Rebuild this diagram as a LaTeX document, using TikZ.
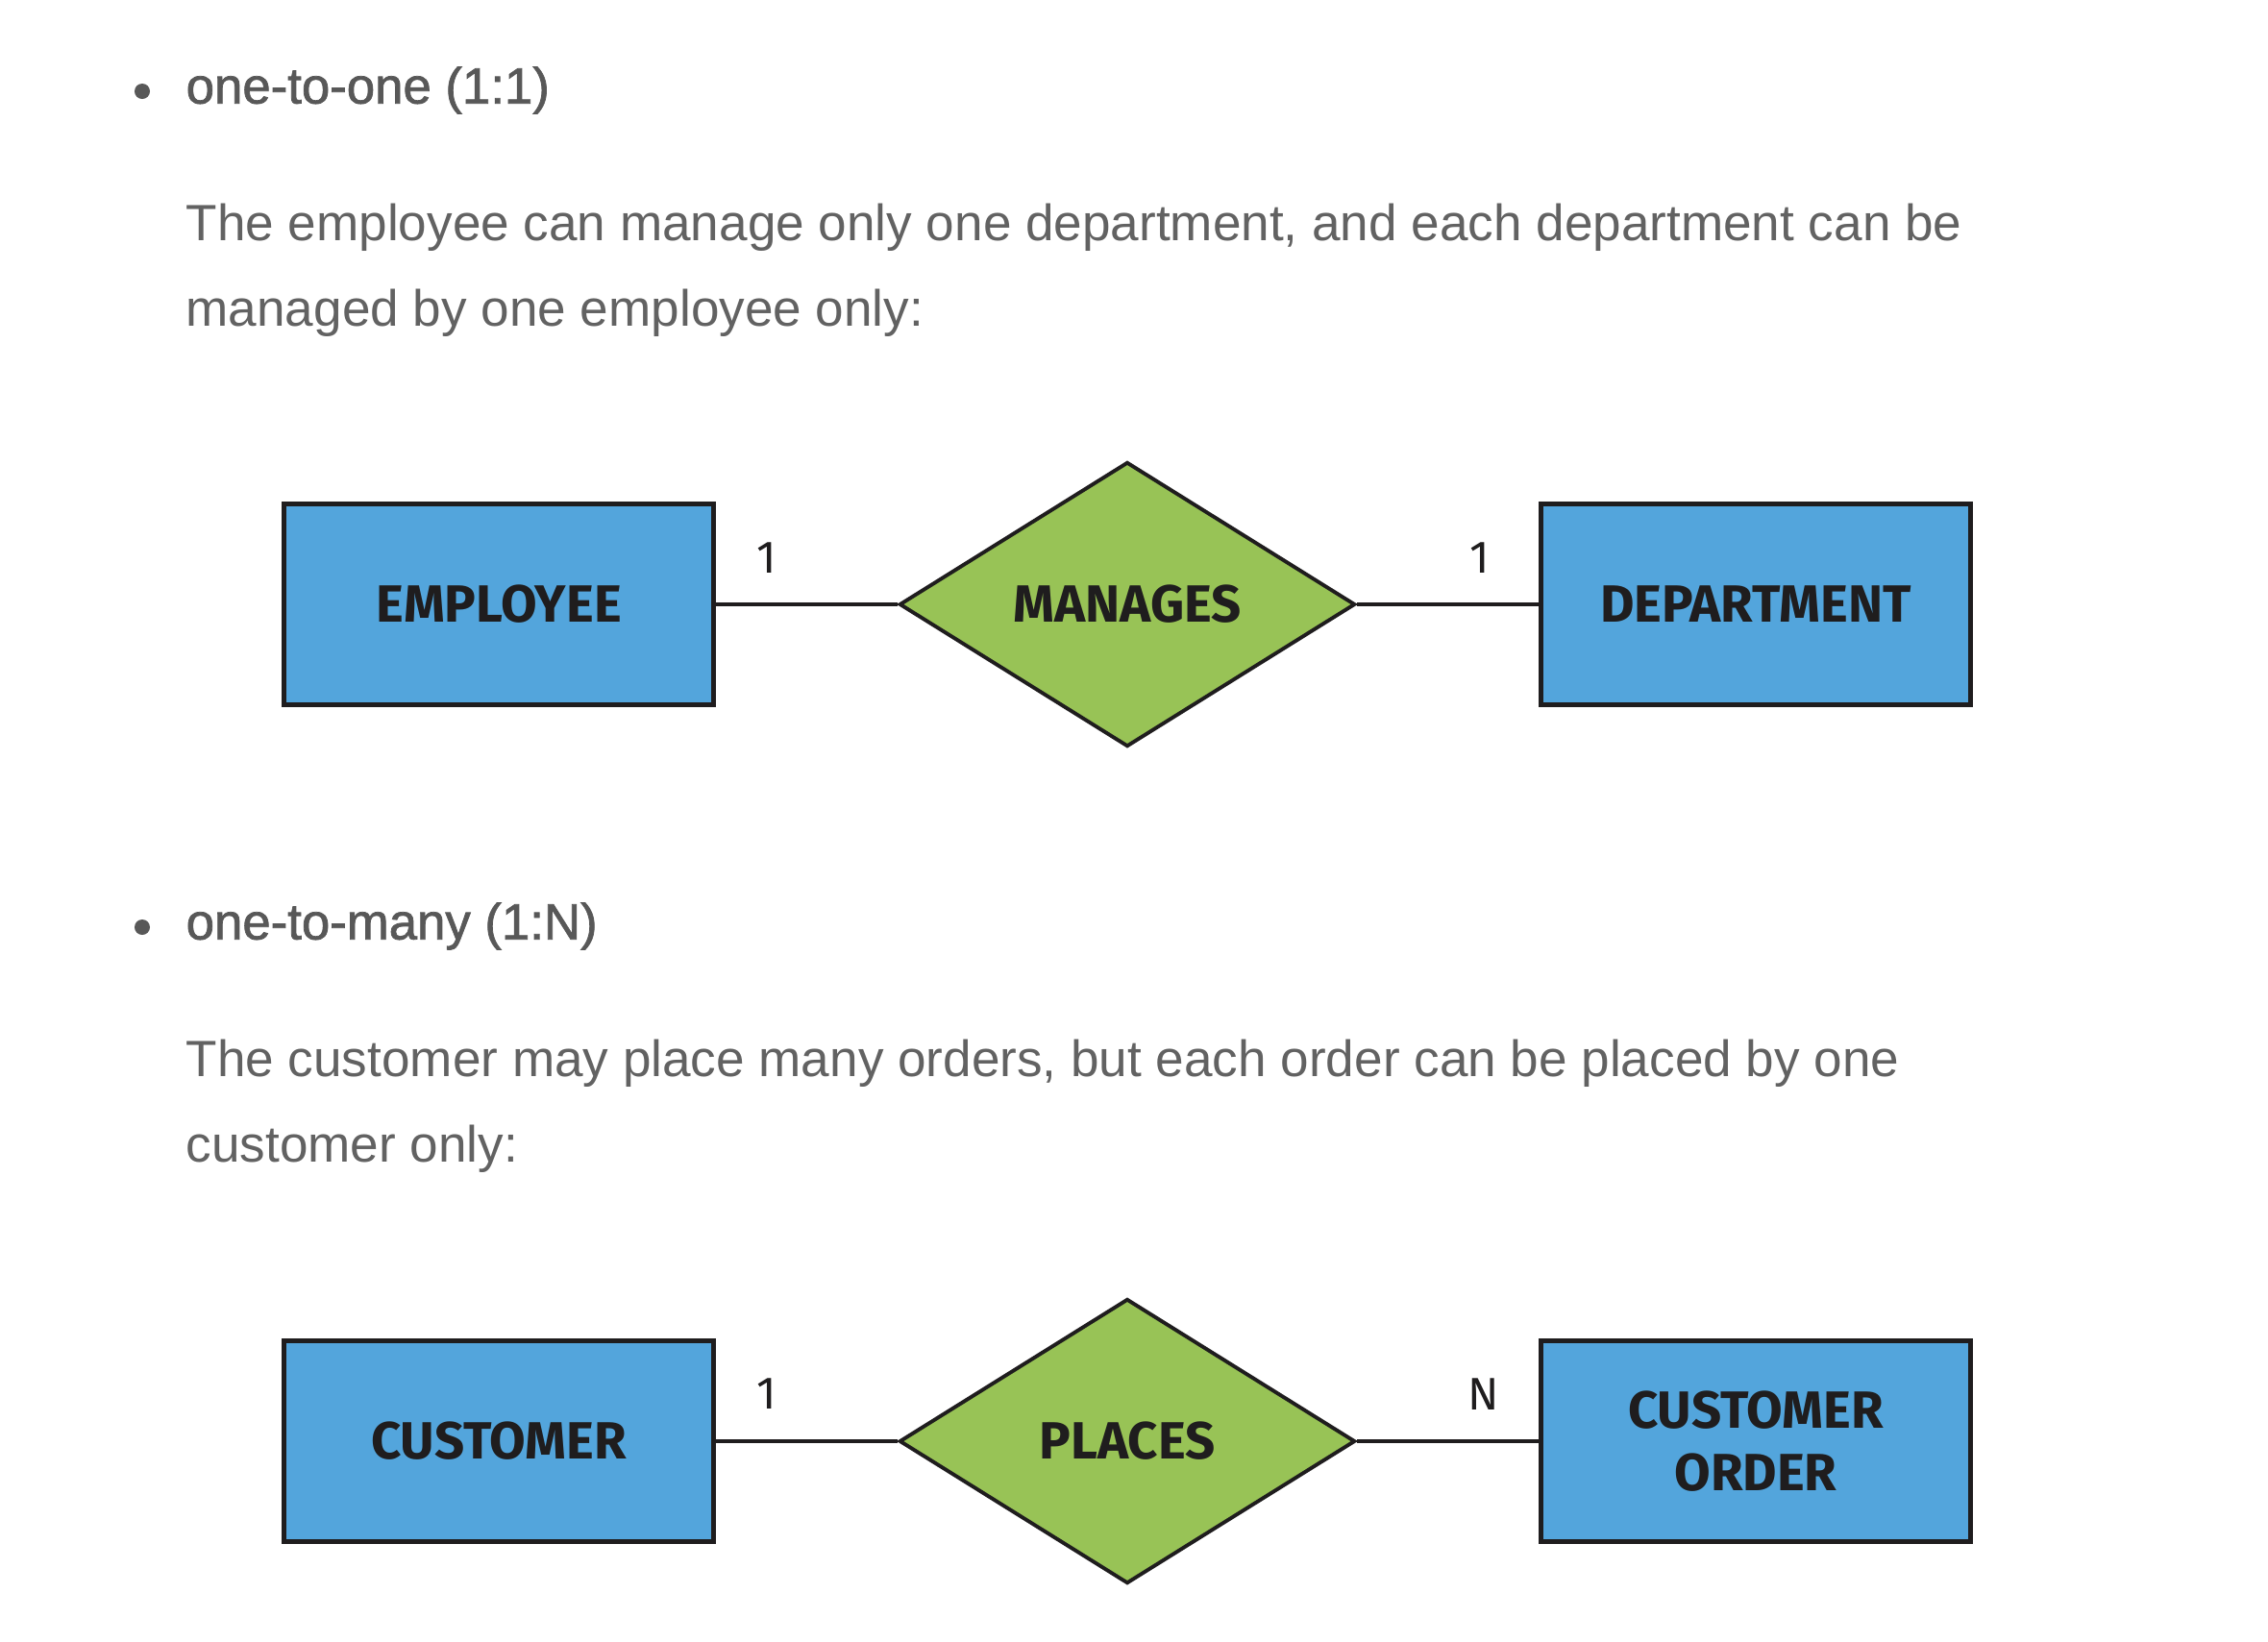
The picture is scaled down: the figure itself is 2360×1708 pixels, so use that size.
\documentclass[tikz,border=0pt]{standalone}
\usepackage{fontspec}
\setmainfont{Liberation Sans}
\newfontfamily\erfont{Fira Sans}
\newfontfamily\headfont[FakeBold=1.4]{Liberation Sans}
\usepackage{xcolor}
\usepackage{tikz}
\usetikzlibrary{shapes.geometric, positioning}
\definecolor{entityblue}{HTML}{53A5DC}
\definecolor{relgreen}{HTML}{98C356}
\definecolor{bodygray}{HTML}{626262}
\definecolor{headgray}{HTML}{585858}
\definecolor{edgeblack}{HTML}{1F1D1E}
\tikzstyle{entity}   = [draw=edgeblack, line width=1.5pt, fill=entityblue,
                        minimum width=4.47cm, minimum height=2.09cm, inner sep=0pt,
                        align=center, text=edgeblack,
                        font=\erfont\bfseries\fontsize{15.5}{18.5}\selectfont]
\tikzstyle{relation} = [diamond, draw=edgeblack, line width=1.1pt, fill=relgreen,
                        minimum width=4.74cm, minimum height=2.96cm, inner sep=0pt,
                        text=edgeblack, font=\erfont\bfseries\fontsize{15.5}{18.5}\selectfont]
\tikzstyle{link}     = [draw=edgeblack, line width=1.1pt]

\begin{document}
\begin{tikzpicture}[
    x=0.01cm, y=-0.01cm,
    head/.style={anchor=west, inner sep=0pt, text=headgray, font=\headfont\fontsize{15}{17}\selectfont},
    body/.style={anchor=west, inner sep=0pt, align=left, text=bodygray,
                 font=\fontsize{15.1}{25.3}\selectfont},
    card/.style={inner sep=0pt, text=edgeblack, font=\erfont\fontsize{13.5}{15}\selectfont},
    bullet/.style={circle, fill=headgray, inner sep=0pt, minimum size=0.16cm},
  ]
  \useasboundingbox[fill=white] (0,0) rectangle (2360,1708);

  % one-to-one
  \node[bullet] (dot1) at (148,95) {};
  \node[head] (head1) at (193,94) {one-to-one (1:1)};
  \node[body] (text1) at (193,281) {The employee can manage only one department, and each department can be\\managed by one employee only:};

  \node[entity]   (employee)   at (519,629) {EMPLOYEE};
  \node[relation] (manages)    at (1173,629) {MANAGES};
  \node[entity]   (department) at (1827,629) {DEPARTMENT};
  \draw[link] (employee.east) -- (manages.west);
  \draw[link] (manages.east) -- (department.west);
  \node[card] (empcard)  at (798,581) {1};
  \node[card] (depcard)  at (1540,581) {1};

  % one-to-many
  \node[bullet] (dot2) at (148,965) {};
  \node[head] (head2) at (193,964) {one-to-many (1:N)};
  \node[body] (text2) at (193,1151) {The customer may place many orders, but each order can be placed by one\\customer only:};

  \node[entity]   (customer) at (519,1500) {CUSTOMER};
  \node[relation] (places)   at (1173,1500) {PLACES};
  \node[entity]   (order)    at (1827,1500) {CUSTOMER\\ORDER};
  \draw[link] (customer.east) -- (places.west);
  \draw[link] (places.east) -- (order.west);
  \node[card] (custcard)  at (798,1451) {1};
  \node[card] (ordcard)   at (1544,1451) {N};
\end{tikzpicture}
\end{document}
